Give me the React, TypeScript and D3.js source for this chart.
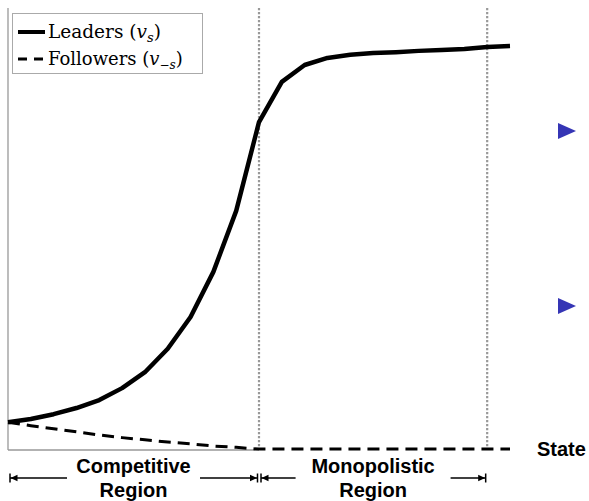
import React from "react";
import * as d3 from "d3";

const states = d3.range(23);
const leaders = [6.3, 7.0, 8.1, 9.5, 11.3, 14.0, 17.6, 22.9, 30.1, 40.3, 54.1, 74.2, 83.3, 87.1, 88.7, 89.4, 89.8, 90.0, 90.3, 90.5, 90.7, 91.2, 91.4];
const followers = [6.3, 5.5, 4.8, 4.1, 3.4, 2.8, 2.3, 1.8, 1.4, 0.9, 0.6, 0.2, 0.2, 0.2, 0.2, 0.2, 0.2, 0.2, 0.2, 0.2, 0.2, 0.2, 0.2];
const boundaries = [11, 21];
const regionNames = [["Competitive", "Region"], ["Monopolistic", "Region"]];
const regionSpans = [[0, 11], [11, 21]];
const markerValues = [72.2, 32.6];

const W = 589;
const H = 501;

export default function App() {
  const x = d3.scaleLinear().domain([0, 22]).range([8, 510]);
  const y = d3.scaleLinear().domain([0, 100]).range([450, 8]);
  const line = d3
    .line<number>()
    .x((_, i) => x(states[i]))
    .y((d) => y(d))
    .curve(d3.curveLinear);

  const halfGaps = [66.5, 77.5];
  const arrowY = 478;

  const arrowHead = (tipX: number, dir: number) => {
    const l = 7;
    const h = 3.2;
    return `M${tipX},${arrowY} L${tipX - dir * l},${arrowY - h} L${tipX - dir * l},${arrowY + h} Z`;
  };

  return (
    <svg
      width={W}
      height={H}
      style={{ position: "absolute", left: 0, top: 0, background: "#fff" }}
    >
      {/* axes */}
      <line x1={x(0)} y1={y(100)} x2={x(0)} y2={y(0)} stroke="#999" strokeWidth={1.3} />
      <line x1={x(0)} y1={y(0)} x2={x(11)} y2={y(0)} stroke="#999" strokeWidth={1.3} />

      {/* boundaries */}
      {boundaries.map((b) => (
        <line
          key={b}
          x1={x(b)}
          x2={x(b)}
          y1={y(100)}
          y2={y(0)}
          stroke="#999"
          strokeWidth={2.2}
          strokeDasharray="2.2,1.8"
        />
      ))}

      {/* series */}
      <path d={line(followers) || ""} fill="none" stroke="#000" strokeWidth={3} strokeDasharray="12,7" />
      <path d={line(leaders) || ""} fill="none" stroke="#000" strokeWidth={4.5} strokeLinejoin="round" />

      {/* legend */}
      <rect x={12.5} y={13.5} width={190} height={60} fill="#fff" stroke="#aaa" strokeWidth={1} />
      <line x1={18} x2={45} y1={32} y2={32} stroke="#000" strokeWidth={4} />
      <line x1={18} x2={45} y1={59} y2={59} stroke="#000" strokeWidth={3} strokeDasharray="9,7" />
      <text x={48} y={37.5} fontFamily="'DejaVu Serif'" fontSize={18.5} fill="#000">
        Leaders (<tspan fontStyle="italic">v</tspan>
        <tspan fontSize={13} fontStyle="italic" dy={4}>s</tspan>
        <tspan dy={-4}>)</tspan>
      </text>
      <text x={48} y={64.5} fontFamily="'DejaVu Serif'" fontSize={18} fill="#000">
        Followers (<tspan fontStyle="italic">v</tspan>
        <tspan fontSize={12} dy={4}>−</tspan>
        <tspan fontSize={12} fontStyle="italic">s</tspan>
        <tspan dy={-4}>)</tspan>
      </text>

      {/* blue markers */}
      {markerValues.map((v, i) => {
        const cy = y(v);
        return (
          <path key={i} d={`M558,${cy - 8} L558,${cy + 8} L576,${cy} Z`} fill="#3535b5" />
        );
      })}

      {/* State label */}
      <text x={537} y={456} fontFamily="'Liberation Sans', Arial, sans-serif" fontWeight="bold" fontSize={20} fill="#000">
        State
      </text>

      {/* regions */}
      {regionSpans.map(([a, b], i) => {
        const x0 = x(a) + 2;
        const x1 = x(b) - 1.5;
        const cx = (x(a) + x(b)) / 2;
        const g = halfGaps[i];
        return (
          <g key={i}>
            <line x1={x0} x2={cx - g} y1={arrowY} y2={arrowY} stroke="#000" strokeWidth={1.3} />
            <line x1={cx + g} x2={x1} y1={arrowY} y2={arrowY} stroke="#000" strokeWidth={1.3} />
            <line x1={x0} x2={x0} y1={arrowY - 4.5} y2={arrowY + 4.5} stroke="#000" strokeWidth={1.5} />
            <line x1={x1} x2={x1} y1={arrowY - 4.5} y2={arrowY + 4.5} stroke="#000" strokeWidth={1.5} />
            <path d={arrowHead(x0 + 0.5, -1)} fill="#000" />
            <path d={arrowHead(x1 - 0.5, 1)} fill="#000" />
            <text
              x={cx}
              y={473}
              textAnchor="middle"
              fontFamily="'Liberation Sans', Arial, sans-serif"
              fontWeight="bold"
              fontSize={20}
              fill="#000"
            >
              {regionNames[i][0]}
            </text>
            <text
              x={cx}
              y={497}
              textAnchor="middle"
              fontFamily="'Liberation Sans', Arial, sans-serif"
              fontWeight="bold"
              fontSize={20}
              fill="#000"
            >
              {regionNames[i][1]}
            </text>
          </g>
        );
      })}
    </svg>
  );
}
